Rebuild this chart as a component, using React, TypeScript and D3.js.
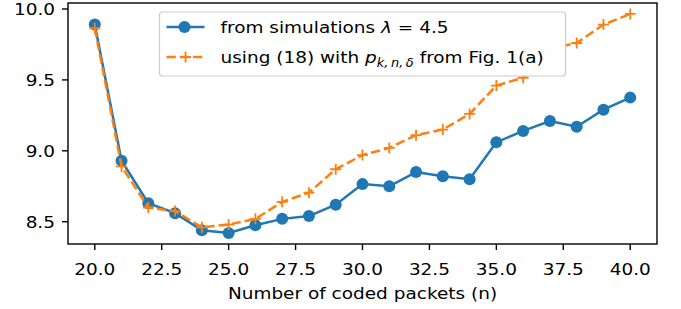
import * as d3 from 'd3';

// chart data
const packets = [20, 21, 22, 23, 24, 25, 26, 27, 28, 29, 30, 31, 32, 33, 34, 35, 36, 37, 38, 39, 40];
const simulated = [9.89, 8.93, 8.63, 8.56, 8.44, 8.42, 8.475, 8.52, 8.54, 8.62, 8.765, 8.75, 8.85, 8.82, 8.8, 9.06, 9.14, 9.21, 9.17, 9.29, 9.375];
const predicted = [9.865, 8.89, 8.6, 8.575, 8.46, 8.48, 8.52, 8.64, 8.705, 8.87, 8.97, 9.02, 9.11, 9.15, 9.26, 9.46, 9.515, 9.72, 9.76, 9.89, 9.965];
const xTicks = [20, 22.5, 25, 27.5, 30, 32.5, 35, 37.5, 40];
const yTicks = [8.5, 9.0, 9.5, 10.0];

const BLUE = '#1f77b4';
const ORANGE = '#ff7f0e';
const FONT = 'DejaVu Sans';
const FS = 16.5;
const STRETCH = 1.12; // text in the reference is a bit wider than tall

// text drawn at (x, y) and widened a little
function T({ x, y, anchor = 'start', children }: { x: number; y: number; anchor?: string; children: any }) {
    return (
        <g transform={`translate(${x},${y}) scale(${STRETCH},1)`}>
            <text x={0} y={0} textAnchor={anchor} fontSize={FS}>{children}</text>
        </g>
    );
}

export default function App() {
    const W = 681, H = 309;
    const box = { left: 68, right: 657, top: 3, bottom: 244 };

    const xMin = d3.min(packets)!, xMax = d3.max(packets)!;
    const xPad = (xMax - xMin) * 0.05;
    const x = d3.scaleLinear().domain([xMin - xPad, xMax + xPad]).range([box.left, box.right]);

    const all = simulated.concat(predicted);
    const yMin = d3.min(all)!, yMax = d3.max(all)!;
    const yPad = (yMax - yMin) * 0.05;
    const y = d3.scaleLinear().domain([yMin - yPad, yMax + yPad]).range([box.bottom, box.top]);

    const line = d3.line<number>().x((_, i) => x(packets[i])).y(d => y(d));

    // legend placement (upper center)
    const legW = 406, legH = 64;
    const legX = (box.left + box.right) / 2 - legW / 2;
    const legY = 12;

    return (
        <svg width={W} height={H} style={{ position: 'absolute', left: 0, top: 0 }} fontFamily={FONT}>
            <rect width={W} height={H} fill="white" />

            {/* lines */}
            <path d={line(simulated)!} fill="none" stroke={BLUE} strokeWidth={2.5} />
            {simulated.map((v, i) => (
                <circle key={'b' + i} cx={x(packets[i])} cy={y(v)} r={6} fill={BLUE} />
            ))}
            <path d={line(predicted)!} fill="none" stroke={ORANGE} strokeWidth={2.5} strokeDasharray="9.25,4" />
            {predicted.map((v, i) => {
                const cx = x(packets[i]), cy = y(v);
                return (
                    <path key={'o' + i} d={`M${cx - 5.5},${cy}H${cx + 5.5}M${cx},${cy - 5.5}V${cy + 5.5}`}
                        stroke={ORANGE} strokeWidth={1.8} fill="none" />
                );
            })}

            {/* axes frame */}
            <rect x={box.left} y={box.top} width={box.right - box.left} height={box.bottom - box.top}
                fill="none" stroke="black" strokeWidth={1.4} />

            {xTicks.map(t => (
                <g key={'x' + t}>
                    <line x1={x(t)} x2={x(t)} y1={box.bottom} y2={box.bottom + 6} stroke="black" strokeWidth={1.4} />
                    <T x={x(t)} y={275} anchor="middle">{t.toFixed(1)}</T>
                </g>
            ))}
            {yTicks.map(t => (
                <g key={'y' + t}>
                    <line x1={box.left - 6} x2={box.left} y1={y(t)} y2={y(t)} stroke="black" strokeWidth={1.4} />
                    <T x={box.left - 13} y={y(t) + 6} anchor="end">{t.toFixed(1)}</T>
                </g>
            ))}

            <T x={(box.left + box.right) / 2} y={299} anchor="middle">Number of coded packets (n)</T>

            {/* legend */}
            <rect x={legX} y={legY} width={legW} height={legH} rx={3} fill="white" fillOpacity={0.97}
                stroke="#cccccc" strokeWidth={1.2} />
            <line x1={legX + 7} x2={legX + 45} y1={legY + 15} y2={legY + 15} stroke={BLUE} strokeWidth={2.5} />
            <circle cx={legX + 25} cy={legY + 15} r={6} fill={BLUE} />
            <line x1={legX + 7} x2={legX + 45} y1={legY + 45} y2={legY + 45} stroke={ORANGE} strokeWidth={2.5}
                strokeDasharray="9.25,4" />
            <path d={`M${legX + 20.5},${legY + 45}H${legX + 31.5}M${legX + 26},${legY + 39.5}V${legY + 50.5}`}
                stroke={ORANGE} strokeWidth={1.8} />
            <T x={legX + 61} y={legY + 21}>
                from simulations <tspan fontStyle="italic">λ</tspan> = 4.5
            </T>
            <T x={legX + 61} y={legY + 51}>
                using (18) with <tspan fontStyle="italic">p</tspan>
                <tspan fontStyle="italic" fontSize={FS * 0.7} dy={4}>k,{'\u2009'}n,{'\u2009'}δ</tspan>
                <tspan dy={-4}> from Fig. 1(a)</tspan>
            </T>
        </svg>
    );
}
